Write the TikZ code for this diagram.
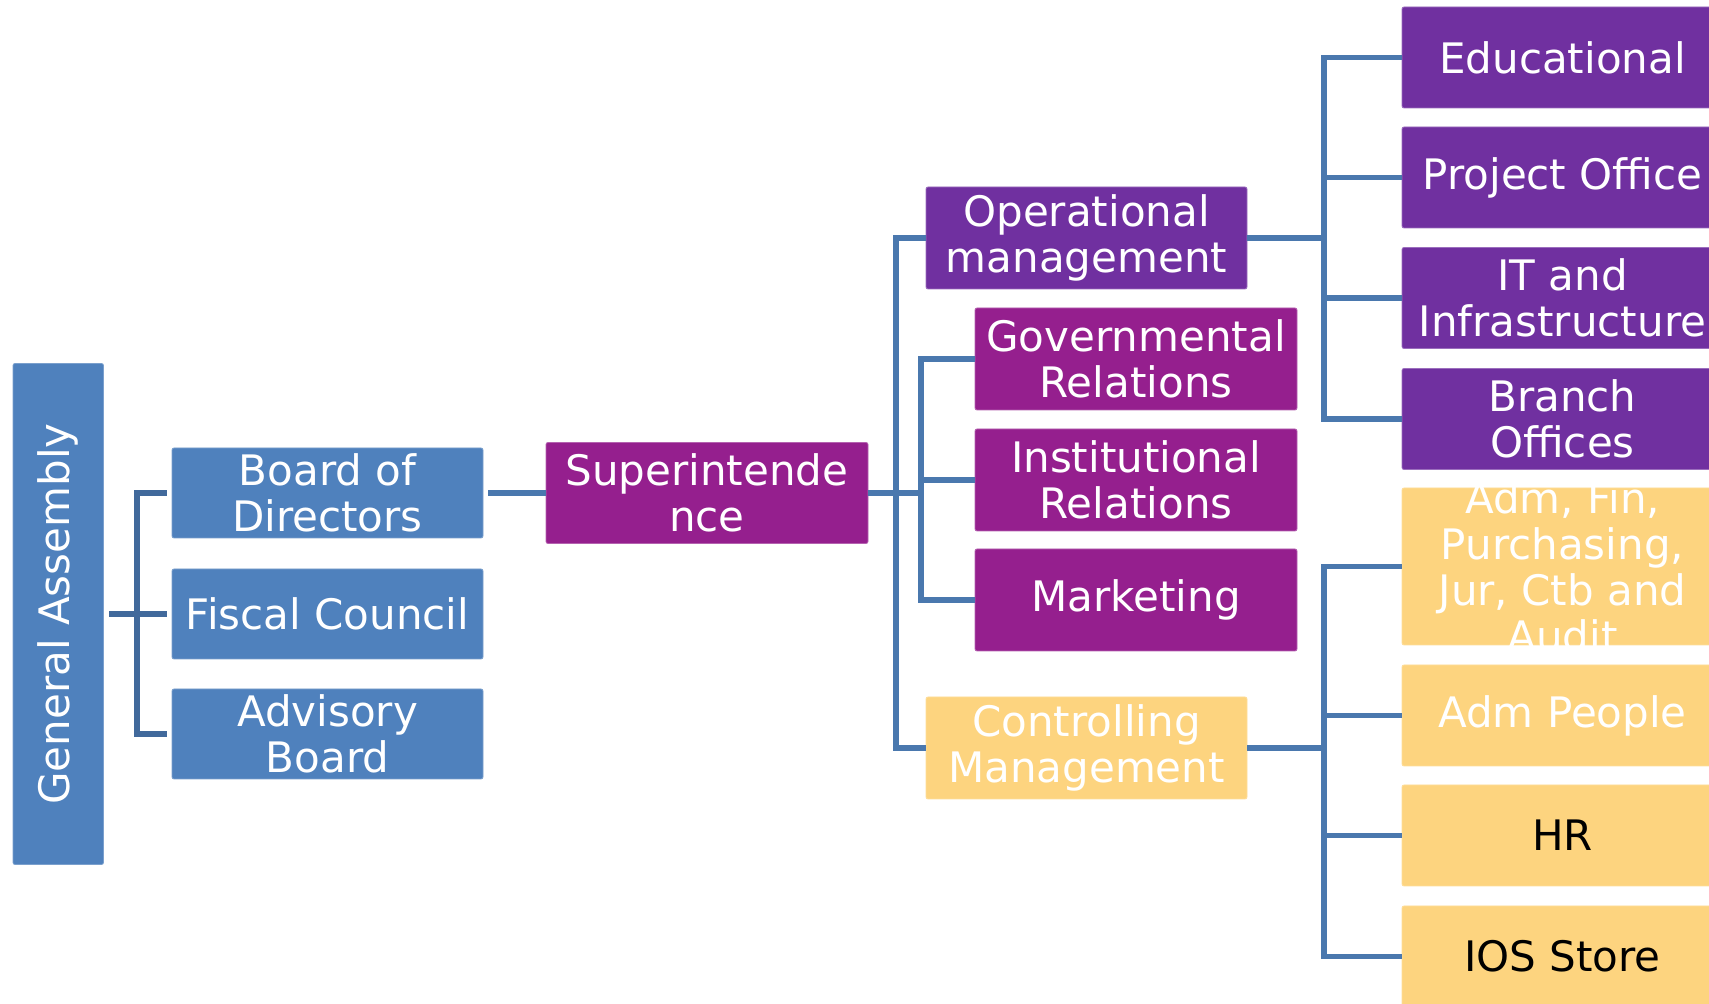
\documentclass[tikz,border=0pt]{standalone}
\usepackage{fontspec}
\setmainfont{DejaVu Sans}
\definecolor{cblue}{HTML}{4F81BD}
\definecolor{cpurple}{HTML}{7030A0}
\definecolor{cmag}{HTML}{951F8E}
\definecolor{cyel}{HTML}{FDD47F}
\definecolor{cline}{HTML}{4A78AE}
\definecolor{cgaline}{HTML}{41699B}
\tikzset{
  box/.style={rectangle, rounded corners=1pt, inner sep=0pt, align=center, text=white,
    line width=0.4pt, font=\fontsize{21pt}{23pt}\selectfont},
  bluebox/.style={box, fill=cblue, draw=cblue!75!white, minimum width=155.5pt, minimum height=45pt},
  purplebox/.style={fill=cpurple, draw=cpurple!70!white},
  magbox/.style={fill=cmag, draw=cmag!70!white},
  yelbox/.style={fill=cyel, draw=cyel!80!white},
  midbox/.style={box, minimum width=161pt, minimum height=51pt},
  rbox/.style={box, minimum width=160.5pt, minimum height=50.5pt},
  txt/.style={inner sep=0pt, align=center, font=\fontsize{21pt}{23pt}\selectfont},
  conn/.style={draw=cline, line width=2.8pt, line join=miter},
  gaconn/.style={draw=cgaline, line width=2.6pt, line join=miter}
}
\begin{document}
\begin{tikzpicture}[x=0.5pt,y=-0.5pt]
\useasboundingbox (0,0) rectangle (1709,1004);
\clip (0,0) rectangle (1709,1004);
% left part
\node[box, fill=cblue, draw=cblue!75!white, minimum width=45.25pt, minimum height=250.5pt] (ga) at (58.25,614) {\rotatebox{90}{General Assembly}};
\node[bluebox] (board) at (327.5,493) {Board of\\Directors};
\node[bluebox] (fiscal) at (327.5,614) {Fiscal Council};
\node[bluebox] (adv) at (327.5,734) {Advisory\\Board};
\coordinate (gaj) at (137,614);
% middle
\node[midbox, magbox, minimum width=161pt, minimum height=50.5pt] (sup) at (707,493) {Superintende\\nce};
\node[midbox, purplebox, minimum width=160.5pt] (op) at (1086.5,238) {Operational\\management};
\node[midbox, magbox] (gov) at (1136,359) {Governmental\\Relations};
\node[midbox, magbox] (inst) at (1136,480) {Institutional\\Relations};
\node[midbox, magbox] (mkt) at (1136,600) {Marketing};
\node[midbox, yelbox, minimum width=160.5pt] (ctrl) at (1086.5,748) {Controlling\\Management};
\coordinate (mv) at (896,493);
\coordinate (sv) at (921,493);
% right column
\node[rbox, purplebox] (edu) at (1562.5,57.5) {Educational};
\node[rbox, purplebox] (proj) at (1562.5,177.5) {Project Office};
\node[rbox, purplebox] (it) at (1562.5,298) {IT and\\Infrastructure};
\node[rbox, yelbox, minimum height=78.5pt] (admfin) at (1562.5,566.5) {};
\node[txt, text=white] (admfintxt) at (admfin.center) {Adm, Fin,\\Purchasing,\\Jur, Ctb and\\Audit};
\node[rbox, purplebox] (branch) at (1562.5,419) {Branch\\Offices};
\node[rbox, yelbox] (admpeople) at (1562.5,715.5) {Adm People};
\node[rbox, yelbox, text=black] (hr) at (1562.5,835.5) {HR};
\node[rbox, yelbox, text=black] (ios) at (1562.5,956.5) {IOS Store};
\coordinate (oj) at (1324,238);
\coordinate (cj) at (1324,748);
% connectors: left bracket
\draw[gaconn, shorten <=2.75pt] (ga.east) -- (gaj);
\draw[gaconn] ([xshift=-2.5pt]board.west) -| (gaj |- adv.west) -- ([xshift=-2.5pt]adv.west);
\draw[gaconn] (gaj) -- ([xshift=-2.5pt]fiscal.west);
% board to superintendence
\draw[conn, shorten <=2.5pt] (board.east) -- (sup.west);
% superintendence to groups
\draw[conn] (sup.east) -- (sv);
\draw[conn] (op.west) -| (mv) |- (ctrl.west);
\draw[conn] (gov.west) -| (sv) |- (mkt.west);
\draw[conn] (sv |- inst.west) -- (inst.west);
% operational to right
\draw[conn] (op.east) -- (oj);
\draw[conn] (edu.west) -| (oj |- branch.west) -- (branch.west);
\draw[conn] (oj |- proj.west) -- (proj.west);
\draw[conn] (oj |- it.west) -- (it.west);
% controlling to right
\draw[conn] (ctrl.east) -- (cj);
\draw[conn] (admfin.west) -| (cj |- ios.west) -- (ios.west);
\draw[conn] (cj |- admpeople.west) -- (admpeople.west);
\draw[conn] (cj |- hr.west) -- (hr.west);
\end{tikzpicture}
\end{document}
